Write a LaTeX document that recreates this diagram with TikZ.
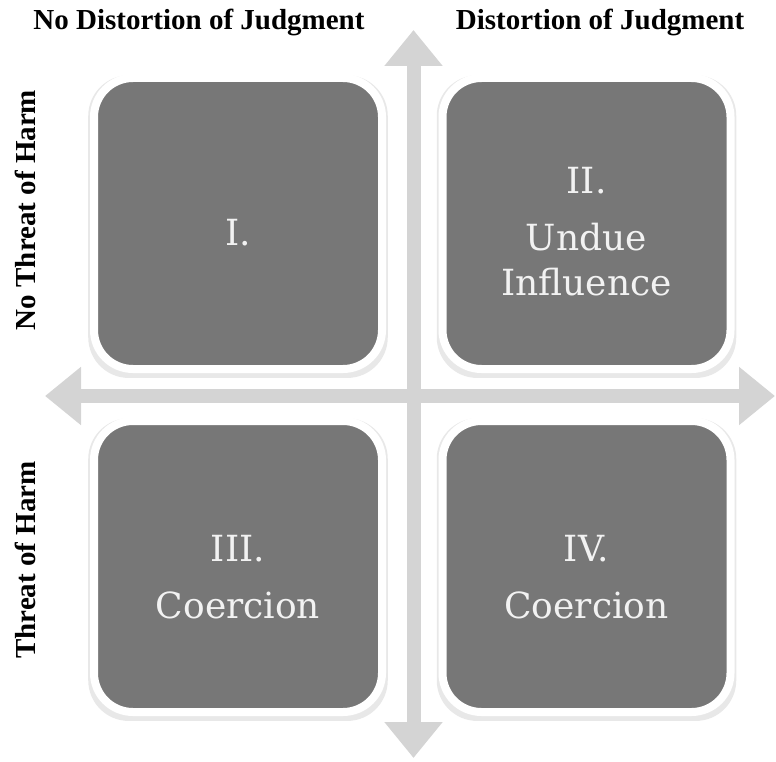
\documentclass[tikz,border=0pt]{standalone}
\usepackage{fontspec}
\setmainfont{Liberation Serif}
\newfontfamily\boxfont{DejaVu Serif}
\usepackage{tikz}
\usetikzlibrary{arrows.meta, shadows}
\definecolor{boxgray}{HTML}{777777}
\definecolor{axisgray}{HTML}{D4D4D4}
\definecolor{boxtext}{HTML}{F2F2F2}
\tikzset{
  quad/.style={draw=white, line width=8pt, fill=boxgray, rounded corners=39pt,
    minimum width=288pt, minimum height=291pt, inner sep=0pt,
    drop shadow={opacity=0.18, shadow xshift=0pt, shadow yshift=-3pt, shadow scale=1.04}},
  quadtext/.style={text=boxtext, font=\boxfont\fontsize{36}{45}\selectfont, align=center},
  heading/.style={font=\bfseries\fontsize{29}{32}\selectfont},
  axis/.style={draw=axisgray, line width=14pt,
    {Triangle[width=56pt,length=36pt]}-{Triangle[width=56pt,length=36pt]}}
}

\begin{document}
\begin{tikzpicture}[x=1pt,y=-1pt]
\useasboundingbox (0,0) rectangle (776,762);
%
\coordinate(top) at (413.5,30);
\coordinate(bot) at (413.5,758);
\coordinate(lft) at (45,396);
\coordinate(rgt) at (775,396);
\draw[axis](bot) -- (top) {};
\draw[axis](lft) -- (rgt) {};
%
\node[quad](q1) at (238,223.5) {};
\node[quad](q2) at (586.5,223.5) {};
\node[quad](q3) at (238,566.5) {};
\node[quad](q4) at (586.5,566.5) {};
%
\node[quadtext](t1) at (238,233) {I.};
\node[quadtext](t2) at (586.5,232) {II.\\[12pt]Undue\\Influence};
\node[quadtext](t3) at (238,577) {III.\\[12pt]Coercion};
\node[quadtext](t4) at (586.5,577) {IV.\\[12pt]Coercion};
%
\node[heading](nodist) at (199,22) {No Distortion of Judgment};
\node[heading](dist) at (600,22) {Distortion of Judgment};
\node[heading, rotate=90](nothreat) at (25,210) {No Threat of Harm};
\node[heading, rotate=90](threat) at (25,560) {Threat of Harm};
\end{tikzpicture}
\end{document}
